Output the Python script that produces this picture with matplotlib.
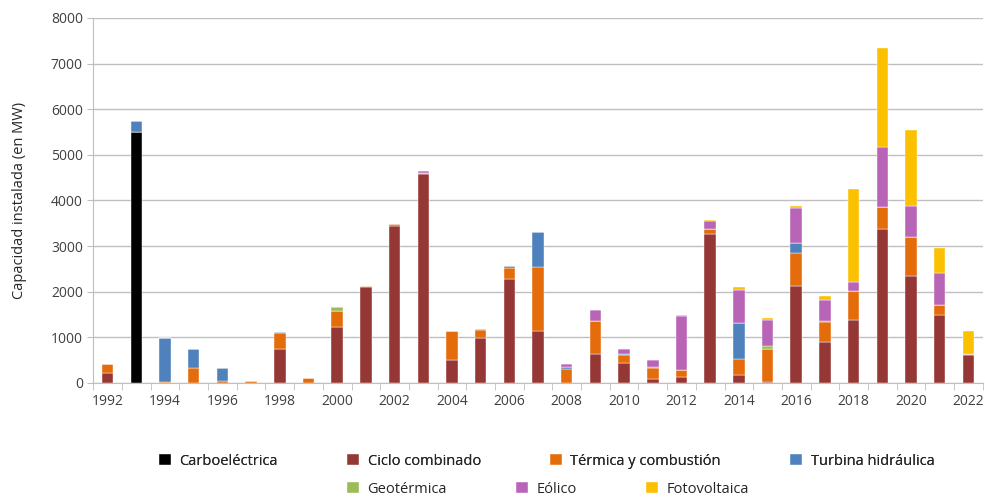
import matplotlib.pyplot as plt
import numpy as np

plt.rcParams['font.family'] = ['Open Sans', 'DejaVu Sans']

years = list(range(1992, 2023))
carboelectrica = [0, 5510, 0, 0, 0, 0, 0, 0, 0, 0, 0, 0, 0, 0, 0, 0,
                  0, 0, 0, 0, 0, 0, 0, 0, 0, 0, 0, 0, 0, 0, 0]
ciclo_combinado = [220, 0, 0, 0, 0, 0, 750, 0, 1220, 2100, 3440, 4570, 500, 990, 2285, 1130,
                   0, 640, 440, 90, 125, 3270, 170, 20, 2115, 905, 1370, 3365, 2350, 1500, 605]
termica = [200, 0, 15, 320, 35, 40, 345, 100, 355, 15, 35, 35, 640, 170, 235, 1410,
           305, 710, 180, 230, 150, 100, 355, 720, 730, 425, 645, 495, 855, 200, 35]
turbina = [0, 235, 960, 425, 300, 0, 15, 0, 0, 0, 0, 0, 0, 30, 35, 760,
           35, 0, 20, 35, 15, 0, 800, 0, 220, 20, 0, 0, 0, 0, 0]
geotermica = [0, 0, 0, 0, 0, 0, 0, 0, 100, 15, 0, 0, 0, 0, 0, 0,
              0, 0, 0, 0, 0, 0, 0, 65, 0, 0, 0, 0, 0, 0, 0]
eolico = [0, 0, 0, 0, 0, 0, 0, 0, 0, 0, 0, 30, 0, 0, 0, 0,
          80, 240, 95, 140, 1170, 175, 710, 585, 775, 475, 190, 1315, 680, 700, 0]
fotovoltaica = [0, 0, 0, 0, 0, 0, 0, 0, 0, 0, 0, 0, 0, 0, 0, 0,
                0, 0, 0, 0, 20, 20, 65, 45, 35, 90, 2050, 2160, 1655, 555, 500]

series = [
    ('Carboeléctrica', carboelectrica, '#000000'),
    ('Ciclo combinado', ciclo_combinado, '#953735'),
    ('Térmica y combustión', termica, '#E46C0A'),
    ('Turbina hidráulica', turbina, '#4F81BD'),
    ('Geotérmica', geotermica, '#9BBB59'),
    ('Eólico', eolico, '#B865B8'),
    ('Fotovoltaica', fotovoltaica, '#FBC000'),
]

fig = plt.figure(figsize=(9.85, 4.99), dpi=100)
ax = fig.add_axes([0.0947, 0.2325, 0.903, 0.7315])

x = np.arange(len(years))
bottom = np.zeros(len(years))
handles = []
for name, vals, color in series:
    vals = np.array(vals, dtype=float)
    h = ax.bar(x, vals, 0.4, bottom=bottom, color=color, label=name,
               edgecolor='white', linewidth=0.3, zorder=3)
    handles.append(h)
    bottom += vals

ax.set_xlim(-0.5, len(years) - 0.5)
ax.set_ylim(0, 8000)
ax.set_yticks(range(0, 8001, 1000))
ax.yaxis.grid(True, color='#BFBFBF', linewidth=1, zorder=0)
ax.set_xticks(x[::2])
ax.set_xticklabels([str(y) for y in years[::2]])
ax.set_xticks(np.arange(-0.5, len(years), 1), minor=True)
ax.tick_params(axis='x', which='major', length=0, pad=8, labelsize=10, colors='#404040')
ax.tick_params(axis='x', which='minor', length=5, color='#BFBFBF')
ax.tick_params(axis='y', length=4, color='#BFBFBF', labelsize=10, labelcolor='#404040')
ax.spines['top'].set_visible(False)
ax.spines['right'].set_visible(False)
ax.spines['left'].set_color('#BFBFBF')
ax.spines['bottom'].set_color('#BFBFBF')
ax.set_ylabel('Capacidad instalada (en MW)', fontsize=10.5, color='#262626', labelpad=17)

leg1 = fig.legend(handles[:4], [s[0] for s in series[:4]], ncol=4, loc='center',
                  bbox_to_anchor=(0.555, 0.076), frameon=False, fontsize=10.5,
                  handlelength=0.8, handleheight=0.8, handletextpad=0.6, columnspacing=4.75,
                  labelcolor='#262626')
fig.add_artist(leg1)
fig.legend(handles[4:], [s[0] for s in series[4:]], ncol=3, loc='center',
           bbox_to_anchor=(0.5565, 0.02), frameon=False, fontsize=10.5,
           handlelength=0.8, handleheight=0.8, handletextpad=0.6, columnspacing=4.75,
           labelcolor='#262626')

fig.savefig('out.png', dpi=100)
